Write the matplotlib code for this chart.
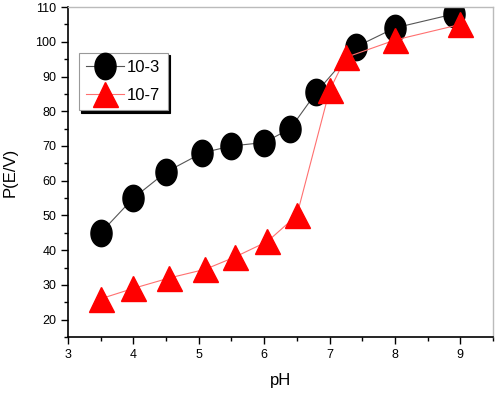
import matplotlib
matplotlib.use('Agg')
import matplotlib.pyplot as plt
import numpy as np
from matplotlib.path import Path
from matplotlib.ticker import MultipleLocator

plt.rcParams['font.family'] = ['Liberation Sans', 'DejaVu Sans']

ph_a = [3.5, 4.0, 4.5, 5.05, 5.5, 6.0, 6.4, 6.8, 7.4, 8.0, 8.9]
p_a = [45, 55, 62.5, 68, 70, 71, 75, 85.5, 98.5, 104, 108]
ph_b = [3.5, 4.0, 4.55, 5.1, 5.55, 6.05, 6.5, 7.0, 7.25, 8.0, 9.0]
p_b = [26, 29, 32, 34.5, 38, 42.5, 50, 86, 95.5, 100.5, 105]
labels = ['10-3', '10-7']

# tall ellipse marker
th = np.linspace(0, 2*np.pi, 60)
ell = Path(np.column_stack([0.8*np.cos(th), np.sin(th)]), closed=True)

fig = plt.figure(figsize=(5, 3.93), dpi=100)
ax = fig.add_axes([0.136, 0.1425, 0.85, 0.8395])

ax.plot(ph_a, p_a, '-', color='#555555', lw=0.8, marker=ell, ms=19,
        mfc='black', mec='black', label=labels[0])
ax.plot(ph_b, p_b, '-', color='#ff7070', lw=0.8, marker='^', ms=18,
        mfc='red', mec='red', label=labels[1])

ax.set_xlim(3, 9.5)
ax.set_ylim(15, 110)
ax.xaxis.set_major_locator(MultipleLocator(1))
ax.xaxis.set_minor_locator(MultipleLocator(0.5))
ax.yaxis.set_major_locator(MultipleLocator(10))
ax.yaxis.set_minor_locator(MultipleLocator(5))
ax.tick_params(which='both', direction='out', labelsize=9, width=1)
ax.tick_params(which='major', length=5)
ax.tick_params(which='minor', length=3)
ax.set_yticks(range(20, 111, 10))

for s in ['top', 'right']:
    ax.spines[s].set_color('#bbbbbb')
    ax.spines[s].set_linewidth(1)
for s in ['left', 'bottom']:
    ax.spines[s].set_linewidth(1.2)

ax.set_xlabel('pH', fontsize=12, labelpad=9)
ax.set_ylabel('P(E/V)', fontsize=12, labelpad=13)

leg = ax.legend(loc='upper left', bbox_to_anchor=(0.025, 0.862), fontsize=12,
                frameon=True, fancybox=False, edgecolor='#999999',
                shadow={'color': 'black', 'alpha': 1}, handlelength=2.3,
                handletextpad=0.15, borderpad=0.45, labelspacing=0.75,
                borderaxespad=0)
leg.get_frame().set_linewidth(0.8)

fig.savefig('out.png', dpi=100)
